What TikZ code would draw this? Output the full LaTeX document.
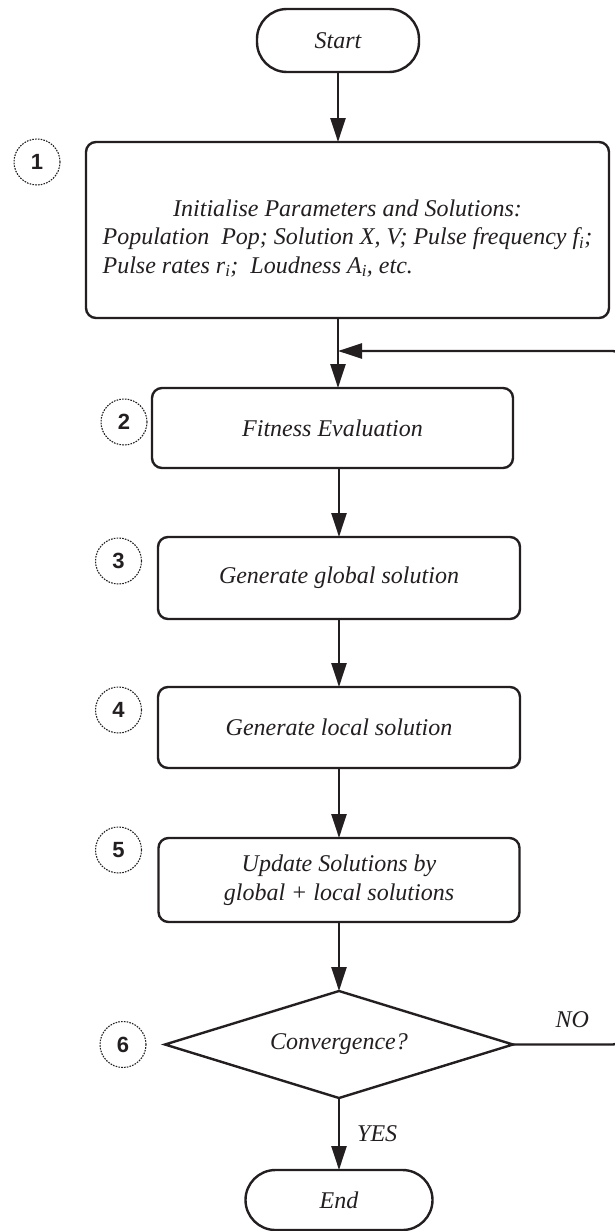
\documentclass[tikz,border=0pt]{standalone}
\usepackage{fontspec}
\setmainfont{Liberation Serif}
\newfontfamily\numfont{Liberation Sans}
\usepackage{tikz}
\usetikzlibrary{shapes.geometric, arrows.meta, positioning}
\definecolor{mydark}{RGB}{35,31,32}
\tikzset{
  block/.style={rectangle, draw=mydark, fill=white, text=mydark,
    minimum width=362pt, minimum height=81pt, align=center,
    rounded corners=10pt, line width=2.4pt, inner sep=0pt, outer sep=0pt},
  termnode/.style={rectangle, draw=mydark, text=mydark,
    rounded corners=30pt, minimum height=61pt,
    line width=2.4pt, outer sep=0pt},
  decision/.style={diamond, aspect=3.25, draw=mydark, text=mydark,
    minimum width=348pt, minimum height=107pt,
    inner sep=0pt, outer sep=0pt, line width=2.4pt},
  numcirc/.style={circle, draw=mydark, text=mydark, line width=1.1pt,
    dash pattern=on 1.6pt off 1.2pt, minimum size=46pt, inner sep=0pt,
    font=\numfont\bfseries\fontsize{22}{22}\selectfont},
  lbl/.style={inner sep=0pt, text=mydark},
  arrow/.style={-{Triangle[length=24pt, width=15pt]}, line width=2.4pt, color=mydark}
}

\begin{document}
\begin{tikzpicture}[every node/.style={font=\fontsize{24}{28.5}\selectfont\itshape}]
  \useasboundingbox (0,0) rectangle (615pt,-1231pt);

  \node[termnode, minimum width=162pt, minimum height=63pt] (start) at (338pt,-40.5pt) {Start};
  \node[block, minimum width=523pt, minimum height=176pt, below=70pt of start, xshift=9.5pt] (init)
    {\raisebox{-9pt}[\height][\depth]{\begin{tabular}{@{}l@{}}
      \multicolumn{1}{@{}c@{}}{Initialise Parameters and Solutions:}\\
      Population\ \ Pop; Solution X, V; Pulse frequency f\textsubscript{i};\\
      Pulse rates r\textsubscript{i};\ \ Loudness A\textsubscript{i}, etc.
    \end{tabular}}};
  \node[block, minimum width=361pt, minimum height=80pt, below=70pt of init, xshift=-15pt] (fit) {Fitness Evaluation};
  \node[block, minimum height=82pt, below=69pt of fit, xshift=6.5pt] (glob) {Generate global solution};
  \node[block, below=68pt of glob] (loc) {Generate local solution};
  \node[block, minimum width=361pt, minimum height=84pt, below=70pt of loc] (upd) {Update Solutions by\\global + local solutions};
  \node[decision, below=69pt of upd] (conv) {Convergence?};
  \node[termnode, minimum width=187pt, minimum height=60pt, below=72pt of conv] (end) {End};

  \node[numcirc] (c1) at ([xshift=-49pt, yshift=-20pt]init.north west) {1};
  \node[numcirc] (c2) at ([xshift=-28pt, yshift=6pt]fit.west) {2};
  \node[numcirc] (c3) at ([xshift=-39.5pt, yshift=-24pt]glob.north west) {3};
  \node[numcirc] (c4) at ([xshift=-39.5pt, yshift=-23pt]loc.north west) {4};
  \node[numcirc] (c5) at ([xshift=-40pt, yshift=-12pt]upd.north west) {5};
  \node[numcirc] (c6) at ([xshift=-42pt]conv.west) {6};

  \path (init.south -| start) ++(0,-33pt) coordinate (back);

  \draw[arrow] (start) -- (start |- init.north);
  \draw[arrow] (init.south -| start) -- (fit.north -| start);
  \draw[arrow] (fit.south -| glob) -- (glob);
  \draw[arrow] (glob) -- (loc);
  \draw[arrow] (loc) -- (upd);
  \draw[arrow] (upd) -- (conv);
  \draw[arrow] (conv) -- node[lbl, right=17pt] {YES} (end);
  \draw[arrow, rounded corners=8pt] (conv.east) -- node[lbl, above=16pt, pos=0.55] {NO} ++(108pt,0) |- (back);
\end{tikzpicture}
\end{document}
